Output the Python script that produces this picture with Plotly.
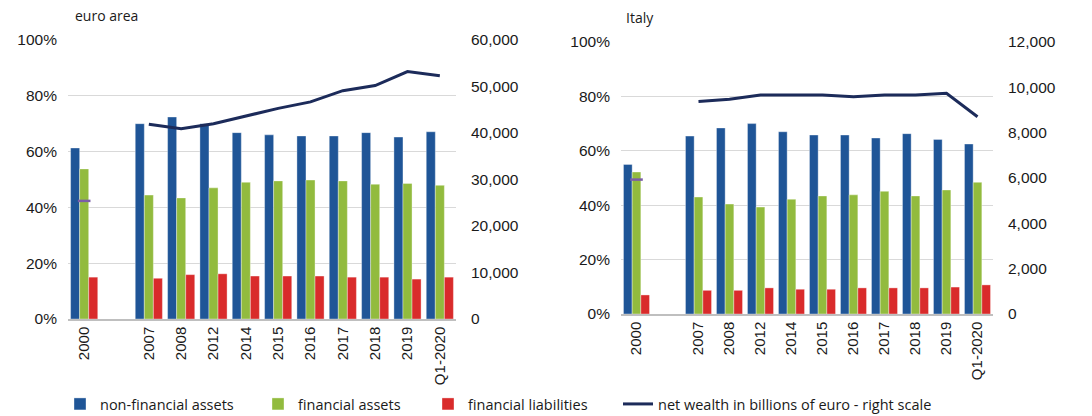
import plotly.graph_objects as go
from plotly.subplots import make_subplots

categories = ["2000", " ", "2007", "2008", "2012", "2014", "2015", "2016", "2017", "2018", "2019", "Q1-2020"]

ea_nonfin = [61.3, None, 70.0, 72.4, 70.0, 66.8, 66.0, 65.6, 65.6, 66.8, 65.2, 67.1]
ea_fin = [53.8, None, 44.4, 43.4, 47.0, 49.0, 49.5, 49.8, 49.5, 48.3, 48.6, 47.9]
ea_liab = [15.0, None, 14.6, 15.9, 16.2, 15.4, 15.4, 15.4, 15.0, 15.0, 14.3, 15.0]
ea_wealth = [None, None, 41900, 40900, 42000, 43700, 45300, 46700, 49100, 50200, 53200, 52300]
ea_wealth_2000 = [25400]

it_nonfin = [55.0, None, 65.4, 68.4, 70.0, 67.0, 65.8, 65.8, 64.7, 66.3, 64.2, 62.5]
it_fin = [52.2, None, 43.0, 40.4, 39.3, 42.2, 43.4, 43.8, 45.1, 43.4, 45.6, 48.4]
it_liab = [7.0, None, 8.7, 8.7, 9.6, 9.1, 9.1, 9.6, 9.6, 9.6, 9.9, 10.7]
it_wealth = [None, None, 9370, 9470, 9660, 9660, 9660, 9580, 9660, 9660, 9740, 8700]
it_wealth_2000 = [5930]

pct_ticks = [0, 20, 40, 60, 80, 100]
pct_labels = ["0%", "20%", "40%", "60%", "80%", "100%"]
ea_right_ticks = [0, 10000, 20000, 30000, 40000, 50000, 60000]
it_right_ticks = [0, 2000, 4000, 6000, 8000, 10000, 12000]

BLUE = "#1f5597"
GREEN = "#92bb3e"
RED = "#d92b2b"
NAVY = "#1c2b5a"
PURPLE = "#7b5ea7"
TICKFONT = "Liberation Sans"
TEXTFONT = "Open Sans"
TXT = "#1a1a1a"

fig = make_subplots(rows=1, cols=2, specs=[[{"secondary_y": True}, {"secondary_y": True}]])

panels = [
    (1, ea_nonfin, ea_fin, ea_liab, ea_wealth, ea_wealth_2000, True),
    (2, it_nonfin, it_fin, it_liab, it_wealth, it_wealth_2000, False),
]
for col, nf, f, l, w, w0, show in panels:
    for name, vals, color, lg in [("non-financial assets", nf, BLUE, "legend"),
                                  ("financial assets", f, GREEN, "legend2"),
                                  ("financial liabilities", l, RED, "legend3")]:
        fig.add_trace(go.Bar(x=categories, y=vals, name=name, marker_color=color,
                             marker_line=dict(color="rgba(255,255,255,0.6)", width=0.6),
                             showlegend=show, legendgroup=name, legend=lg),
                      row=1, col=col, secondary_y=False)
    fig.add_trace(go.Scatter(x=categories, y=w, mode="lines", name="net wealth in billions of euro - right scale",
                             line=dict(color=NAVY, width=3), showlegend=show,
                             legendgroup="nw", legend="legend4", connectgaps=False),
                  row=1, col=col, secondary_y=True)
    fig.add_trace(go.Scatter(x=[categories[0]], y=w0, mode="markers", showlegend=False,
                             marker=dict(symbol="line-ew", size=9, line=dict(color=PURPLE, width=2.5))),
                  row=1, col=col, secondary_y=True)

W, H = 1092, 416


def xd(a, b):
    return [a / W, b / W]


def yd(bottom_px, top_px):
    return [(H - bottom_px) / H, (H - top_px) / H]


def xp(px):
    return px / W


def yp(px):
    return (H - px) / H


common_x = dict(type="category", categoryorder="array", categoryarray=categories,
                range=[-0.5, len(categories) - 0.5],
                tickangle=-90, tickfont=dict(family=TICKFONT, size=15, color=TXT),
                showgrid=False, showline=True, linecolor="#bfbfbf", linewidth=1.5,
                ticks="", zeroline=False, automargin=False)
ytick = dict(family=TICKFONT, size=15.5, color=TXT)


def leg(text_px):
    return dict(orientation="h", x=xp(text_px - 42), y=yp(404), yanchor="middle", xanchor="left",
                font=dict(family=TEXTFONT, size=14.5, color=TXT), itemwidth=30,
                bgcolor="rgba(0,0,0,0)")


fig.update_layout(
    width=W, height=H,
    margin=dict(l=0, r=0, t=0, b=0, autoexpand=False),
    plot_bgcolor="white", paper_bgcolor="white",
    barmode="group", bargap=0.16, bargroupgap=0.0,
    font=dict(family=TEXTFONT, size=14, color=TXT),
    xaxis=dict(domain=xd(68, 456), **common_x),
    xaxis2=dict(domain=xd(621, 993), **common_x),
    yaxis=dict(domain=yd(319, 40), range=[0, 100], tickvals=pct_ticks, ticktext=pct_labels,
               showgrid=True, gridcolor="#d9d9d9", gridwidth=1.3, zeroline=False, ticks="",
               ticklabelstandoff=10, tickfont=ytick, automargin=False),
    yaxis2=dict(range=[0, 60000], tickvals=ea_right_ticks, tickformat=",", showgrid=False, zeroline=False,
                ticks="", ticklabelstandoff=14, tickfont=ytick, automargin=False),
    yaxis3=dict(domain=yd(314, 42), range=[0, 100], tickvals=pct_ticks, ticktext=pct_labels,
                showgrid=True, gridcolor="#d9d9d9", gridwidth=1.3, zeroline=False, ticks="",
                ticklabelstandoff=10, tickfont=ytick, automargin=False),
    yaxis4=dict(range=[0, 12000], tickvals=it_right_ticks, tickformat=",", showgrid=False, zeroline=False,
                ticks="", ticklabelstandoff=14, tickfont=ytick, automargin=False),
    legend=leg(102),
    legend2=leg(300),
    legend3=leg(470),
    legend4=leg(660),
    annotations=[
        dict(text="euro area", x=xp(73), y=yp(16), xref="paper", yref="paper", showarrow=False,
             xanchor="left", yanchor="middle", font=dict(family=TEXTFONT, size=14, color=TXT)),
        dict(text="Italy", x=xp(624), y=yp(18), xref="paper", yref="paper", showarrow=False,
             xanchor="left", yanchor="middle", font=dict(family=TEXTFONT, size=14, color=TXT)),
    ],
)
fig.update_yaxes(domain=yd(319, 40), row=1, col=1)
fig.update_yaxes(domain=yd(314, 42), row=1, col=2)

# remove the browser's default 8px page margin so the figure fills the window exactly
fig.write_html("out.html", config={"displayModeBar": False},
               post_script="document.body.style.margin='0';document.body.style.overflow='hidden';")
